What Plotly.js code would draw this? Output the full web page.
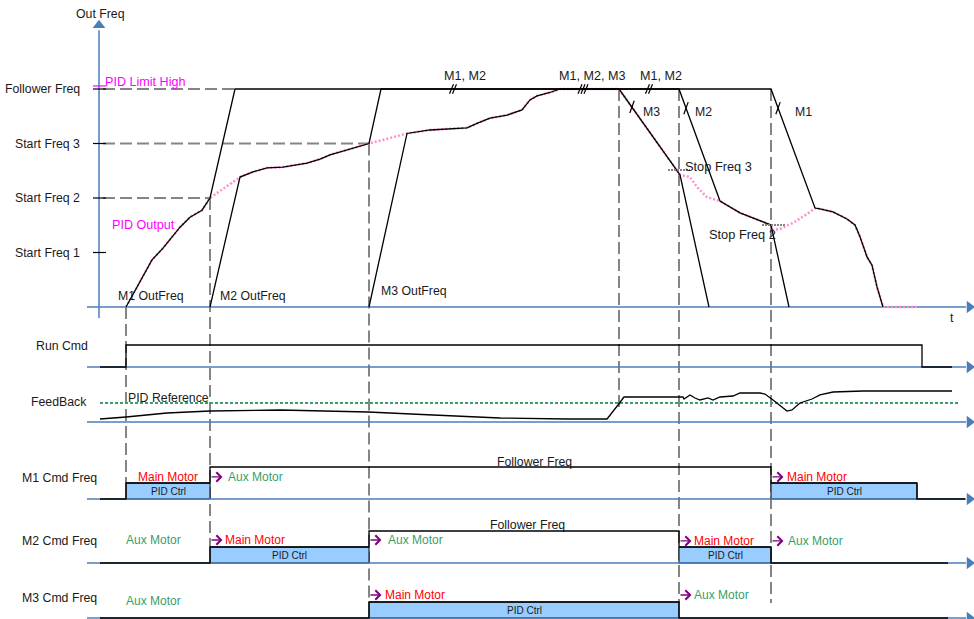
<!DOCTYPE html>
<html>
<head>
<meta charset="utf-8">
<script src="https://cdn.plot.ly/plotly-3.0.1.min.js"></script>
<style>html,body{margin:0;padding:0;background:#fff;}#chart{width:974px;height:619px;}</style>
</head>
<body>
<div id="chart"></div>
<script>
// ---------------- DATA ----------------
// time unit: arbitrary "t" ; frequency unit: Hz-like (Follower Freq = 50)
const freqTickVals = [12.5, 25, 37.5, 50];
const freqTickText = ['Start Freq 1', 'Start Freq 2', 'Start Freq 3', 'Follower Freq'];
const pidLimitHigh = 50.7;
const stopFreq3 = 31.4;
const stopFreq2 = 18.8;

// event times: M1 start, M2 start, M3 start, M3 stop, M2 stop, M1 -> main
const eventT = [2.7, 11.1, 27.0, 52.0, 58.0, 67.2];

const m1T = [2.7, 3.9, 5.3, 6.4, 8.1, 9.1, 10.3, 11.1, 13.6, 67.2, 71.6, 72.1, 73.4, 74.8, 75.6, 76.1, 76.8, 77.3, 77.8, 78.4];
const m1F = [0, 5.0, 10.8, 13.5, 18.3, 20.6, 22.2, 25.0, 50, 50, 22.7, 22.5, 21.8, 20.2, 18.8, 16.1, 11.5, 9.6, 4.6, 0];

const m2T = [11.1, 14.1, 15.4, 16.8, 18.4, 20.8, 22.1, 23.1, 27.0, 28.2, 58.0, 62.1, 64.1, 66.8, 67.2, 69.0];
const m2F = [0, 29.8, 31.0, 31.9, 32.1, 33.0, 33.9, 34.9, 37.5, 50, 50, 24.3, 21.6, 19.3, 18.8, 0];

const m3T = [27.0, 30.8, 33.1, 34.8, 36.8, 37.8, 39.1, 40.8, 42.3, 43.1, 43.8, 45.1, 46.1, 52.0, 57.8, 58.1, 61.0];
const m3F = [0, 39.8, 40.6, 40.8, 41.1, 42.1, 43.3, 44.0, 45.2, 47.5, 48.4, 49.2, 50, 50, 31.4, 30.3, 0];

const pidT = [2.7, 3.9, 5.3, 6.4, 8.1, 9.1, 10.3, 11.1, 14.1, 15.4, 16.8, 18.4, 20.8, 22.1, 23.1, 27.0,
  30.8, 33.1, 34.8, 36.8, 37.8, 39.1, 40.8, 42.3, 43.1, 43.8, 45.1, 46.1,
  52.0, 57.8, 58.1, 59.1, 59.8, 60.8, 62.1, 64.1, 66.8, 67.2,
  67.4, 68.1, 69.4, 70.8, 71.6, 72.1, 73.4, 74.8, 75.6, 76.1, 76.8, 77.3, 77.8, 78.4, 81.9];
const pidF = [0, 5.0, 10.8, 13.5, 18.3, 20.6, 22.2, 25.0, 29.8, 31.0, 31.9, 32.1, 33.0, 33.9, 34.9, 37.5,
  39.8, 40.6, 40.8, 41.1, 42.1, 43.3, 44.0, 45.2, 47.5, 48.4, 49.2, 50,
  50, 31.4, 30.3, 29.8, 27.5, 25.2, 24.3, 21.6, 19.3, 18.8,
  17.7, 17.9, 19.3, 21.3, 22.7, 22.5, 21.8, 20.2, 18.8, 16.1, 11.5, 9.6, 4.6, 0, 0];

const runT = [0.1, 2.7, 2.7, 82.3, 82.3, 85.3];
const runV = [0, 0, 1, 1, 0, 0];

const refT = [0.1, 85.9];
const refV = [50, 50];   // PID reference, %
const fbT = [0.1, 2.7, 6.8, 11.1, 18.1, 23.4, 26.9, 33.4, 40.1, 46.8,
  50.8, 51.9, 52.5, 58.4, 58.5, 59.1, 59.6, 60.1, 60.9, 61.4,
  62.1, 63.4, 64.1, 66.1, 66.6, 67.4, 68.3, 68.8, 69.3, 70.1,
  71.3, 72.1, 73.4, 76.4, 85.3];
const fbV = [7.9, 13.2, 23.7, 28.9, 31.6, 28.9, 26.3, 18.4, 10.5, 7.9,
  7.9, 44.7, 65.8, 65.8, 60.5, 71.1, 63.2, 57.9, 63.2, 57.9,
  65.8, 68.4, 76.3, 76.3, 73.7, 57.9, 39.5, 28.9, 31.6, 50.0,
  60.5, 71.1, 78.9, 81.6, 81.6];

// command frequency rows: 0 = off, 0.5 = PID Ctrl, 1 = Follower Freq
const m1CmdT = [0.1, 2.7, 2.7, 11.1, 11.1, 67.2, 67.2, 81.8, 81.8, 86.6];
const m1CmdV = [0, 0, 0.5, 0.5, 1, 1, 0.5, 0.5, 0, 0];
const m2CmdT = [0.1, 11.1, 11.1, 27.0, 27.0, 58.0, 58.0, 67.2, 67.2, 84.9];
const m2CmdV = [0, 0, 0.5, 0.5, 1, 1, 0.5, 0.5, 0, 0];
const m3CmdT = [0.1, 27.0, 27.0, 58.0, 58.0, 84.9];
const m3CmdV = [0, 0, 0.5, 0.5, 0, 0];

// break marks on the Follower Freq line (time, count) and on decel lines (time, freq)
const breakT = [35.4, 48.4, 55.0];
const breakN = [2, 3, 2];
const crossT = [53.3, 58.7, 67.9];
const crossF = [45.9, 45.6, 45.6];

// ---------------- STYLE ----------------
const FONT = 'Arial, "Liberation Sans", sans-serif';
const BLUE = '#4a7ebb';
const GRAY = '#858585';
const PINK = '#ff8fce';
const MAG = '#ff00ff';
const RED = '#ff0000';
const GREEN = '#3a9d6a';
const PURPLE = '#800080';
const BOX = '#99ccff';
const TS = 12.3;

const traces = [];
const shapes = [];
const ann = [];

function line(x, y, yaxis, color, width, dash) {
  traces.push({x: x, y: y, xaxis: 'x', yaxis: yaxis, mode: 'lines', hoverinfo: 'skip',
    line: {color: color, width: width, dash: dash || 'solid'}});
}
function axisArrow(yaxis) {
  line([-1.2, 86.7], [0, 0], yaxis, BLUE, 1.5);
  traces.push({x: [87.05], y: [0], xaxis: 'x', yaxis: yaxis, mode: 'markers', hoverinfo: 'skip',
    marker: {symbol: 'triangle-right', size: 11, color: BLUE}});
}
function txt(x, y, yref, text, o) {
  o = o || {};
  ann.push({x: x, y: y, xref: 'x', yref: yref, text: text, showarrow: false,
    xanchor: o.xa || 'left', yanchor: 'middle',
    font: {family: o.family || FONT, size: o.size || TS, color: o.color || '#1a1a1a'}});
}

// ---------------- Out Freq panel ----------------
line([0, 0], [-2.5, 63.5], 'y', BLUE, 1.5);
traces.push({x: [0], y: [64.6], xaxis: 'x', yaxis: 'y', mode: 'markers', hoverinfo: 'skip',
  marker: {symbol: 'triangle-up', size: 11, color: BLUE}});
axisArrow('y');

const guideEnd = [eventT[1], eventT[2], m1T[8]];
const guideLvl = [freqTickVals[1], freqTickVals[2], freqTickVals[3]];
guideLvl.forEach((lv, i) => {
  shapes.push({type: 'line', xref: 'x', yref: 'y', x0: 0.4, x1: guideEnd[i], y0: lv, y1: lv, layer: 'below',
    line: {color: GRAY, width: 2, dash: '12px,5px'}});
});
freqTickVals.forEach((v, i) => {
  shapes.push({type: 'line', xref: 'x', yref: 'y', x0: -0.6, x1: 0.7, y0: v, y1: v,
    line: {color: '#000', width: 1.2}});
  txt(-1.7, v, 'y', freqTickText[i], {xa: 'right'});
});
shapes.push({type: 'line', xref: 'x', yref: 'y', x0: -0.6, x1: 0.7, y0: pidLimitHigh, y1: pidLimitHigh,
  line: {color: MAG, width: 1.2}});

shapes.push({type: 'line', xref: 'x', yref: 'y', x0: 56.9, x1: 59.1, y0: stopFreq3, y1: stopFreq3,
  line: {color: GRAY, width: 2, dash: '2px,1px'}});
shapes.push({type: 'line', xref: 'x', yref: 'y', x0: 66.3, x1: 68.7, y0: stopFreq2, y1: stopFreq2,
  line: {color: GRAY, width: 2, dash: '2px,1px'}});

const evTop = [0, 25, 37.5, 50, 50, 50];
const evBottom = [-40.4, -55.0, -67.9, -23.6, -67.9, -67.9];
eventT.forEach((t, i) => {
  shapes.push({type: 'line', xref: 'x', yref: 'y', x0: t, x1: t, y0: evTop[i], y1: evBottom[i], layer: 'below',
    line: {color: GRAY, width: 2, dash: '12px,5px'}});
});

// break marks
breakT.forEach((t, i) => {
  const n = breakN[i];
  for (let k = 0; k < n; k++) {
    const c = t + (k - (n - 1) / 2) * 0.3;
    shapes.push({type: 'line', xref: 'x', yref: 'y', x0: c - 0.2, x1: c + 0.2, y0: 48.9, y1: 51.1,
      line: {color: '#000', width: 1.2}});
  }
});
crossT.forEach((t, i) => {
  shapes.push({type: 'line', xref: 'x', yref: 'y', x0: t - 0.22, x1: t + 0.22, y0: crossF[i] - 1.4, y1: crossF[i] + 1.4,
    line: {color: '#000', width: 1.2}});
});

line(pidT, pidF, 'y', PINK, 2.5, '2px,2px');
line(m1T, m1F, 'y', '#000', 1.3);
line(m2T, m2F, 'y', '#000', 1.3);
line(m3T, m3F, 'y', '#000', 1.3);

txt(0.1, 67.2, 'y', 'Out Freq', {xa: 'center'});
txt(0.4, 51.6, 'y', 'PID Limit High', {color: MAG, size: 12.6});
txt(1.1, 18.8, 'y', 'PID Output', {color: MAG, size: 12.6});
txt(1.7, 2.5, 'y', 'M1 OutFreq');
txt(11.9, 2.5, 'y', 'M2 OutFreq');
txt(28.0, 3.7, 'y', 'M3 OutFreq');
txt(36.6, 53.0, 'y', 'M1, M2', {xa: 'center', size: 12.6});
txt(49.3, 53.0, 'y', 'M1, M2, M3', {xa: 'center', size: 12.6});
txt(56.2, 53.0, 'y', 'M1, M2', {xa: 'center', size: 12.6});
txt(54.2, 44.7, 'y', 'M3');
txt(59.4, 44.7, 'y', 'M2');
txt(69.4, 44.7, 'y', 'M1');
txt(58.4, 32.3, 'y', 'Stop Freq 3', {size: 12.8});
txt(60.8, 16.7, 'y', 'Stop Freq 2', {size: 12.8});
txt(85.3, -2.5, 'y', 't', {xa: 'center'});

// ---------------- Run Cmd ----------------
axisArrow('y2');
line(runT, runV, 'y2', '#000', 1.3);
txt(-0.9, 0.95, 'y2', 'Run Cmd', {xa: 'right'});

// ---------------- Feedback ----------------
axisArrow('y3');
line(refT, refV, 'y3', GREEN, 2, '3px,2px');
line(fbT, fbV, 'y3', '#000', 1.3);
txt(-1.0, 52.6, 'y3', 'FeedBack', {xa: 'right'});
txt(2.7, 63.2, 'y3', 'PID Reference');

// ---------------- Cmd Freq rows ----------------
function cmdRow(T, V, yaxis) {
  axisArrow(yaxis);
  for (let i = 0; i < T.length - 1; i++) {
    if (V[i] === 0.5 && V[i + 1] === 0.5) {
      shapes.push({type: 'rect', xref: 'x', yref: yaxis, x0: T[i], x1: T[i + 1], y0: 0, y1: 0.5,
        fillcolor: BOX, layer: 'below', line: {color: '#000', width: 1}});
      txt((T[i] + T[i + 1]) / 2, 0.24, yaxis, 'PID Ctrl', {xa: 'center', size: 10});
    }
  }
  line(T, V, yaxis, '#000', 1.3);
}
cmdRow(m1CmdT, m1CmdV, 'y4');
cmdRow(m2CmdT, m2CmdV, 'y5');
cmdRow(m3CmdT, m3CmdV, 'y6');

function arrow(t, y, yref) {
  ann.push({x: t + 1.25, y: y, xref: 'x', yref: yref, ax: t, ay: y, axref: 'x', ayref: yref,
    showarrow: true, arrowhead: 4, arrowsize: 1.3, arrowwidth: 1.4, arrowcolor: PURPLE, text: ''});
}

txt(0, 0.66, 'y4', 'M1 Cmd Freq', {xa: 'right'});
txt(6.9, 0.69, 'y4', 'Main Motor', {xa: 'center', color: RED, size: 12});
arrow(eventT[1], 0.69, 'y4');
txt(12.7, 0.69, 'y4', 'Aux Motor', {color: GREEN, size: 12});
txt(39.6, 1.16, 'y4', 'Follower Freq');
arrow(eventT[5], 0.69, 'y4');
txt(68.6, 0.69, 'y4', 'Main Motor', {color: RED, size: 12});

txt(0, 0.69, 'y5', 'M2 Cmd Freq', {xa: 'right'});
txt(2.5, 0.72, 'y5', 'Aux Motor', {color: GREEN, size: 12});
arrow(eventT[1], 0.72, 'y5');
txt(12.4, 0.72, 'y5', 'Main Motor', {color: RED, size: 12});
arrow(eventT[2], 0.72, 'y5');
txt(28.7, 0.72, 'y5', 'Aux Motor', {color: GREEN, size: 12});
txt(38.9, 1.19, 'y5', 'Follower Freq');
arrow(eventT[4], 0.69, 'y5');
txt(59.3, 0.69, 'y5', 'Main Motor', {color: RED, size: 12});
arrow(eventT[5], 0.69, 'y5');
txt(68.7, 0.69, 'y5', 'Aux Motor', {color: GREEN, size: 12});

txt(0, 0.63, 'y6', 'M3 Cmd Freq', {xa: 'right'});
txt(2.5, 0.53, 'y6', 'Aux Motor', {color: GREEN, size: 12});
arrow(eventT[2], 0.72, 'y6');
txt(28.4, 0.72, 'y6', 'Main Motor', {color: RED, size: 12});
arrow(eventT[4], 0.72, 'y6');
txt(59.3, 0.72, 'y6', 'Aux Motor', {color: GREEN, size: 12});

// ---------------- LAYOUT ----------------
const hidden = {visible: false, fixedrange: true, showgrid: false, zeroline: false};
const layout = {
  width: 974, height: 619,
  margin: {l: 0, r: 0, t: 0, b: 0},
  paper_bgcolor: '#fff', plot_bgcolor: '#fff',
  showlegend: false, hovermode: false,
  font: {family: FONT},
  xaxis: Object.assign({range: [-9.9, 87.5]}, hidden),
  yaxis: Object.assign({range: [-71.5596, 70.4128]}, hidden),
  yaxis2: Object.assign({range: [-11.4545, 16.6818], overlaying: 'y'}, hidden),
  yaxis3: Object.assign({range: [-518.421, 1110.526], overlaying: 'y'}, hidden),
  yaxis4: Object.assign({range: [-3.75, 15.59375], overlaying: 'y'}, hidden),
  yaxis5: Object.assign({range: [-1.75, 17.59375], overlaying: 'y'}, hidden),
  yaxis6: Object.assign({range: [-0.03125, 19.3125], overlaying: 'y'}, hidden),
  shapes: shapes,
  annotations: ann
};
Plotly.newPlot('chart', traces, layout, {staticPlot: true, displayModeBar: false});
</script>
</body>
</html>
